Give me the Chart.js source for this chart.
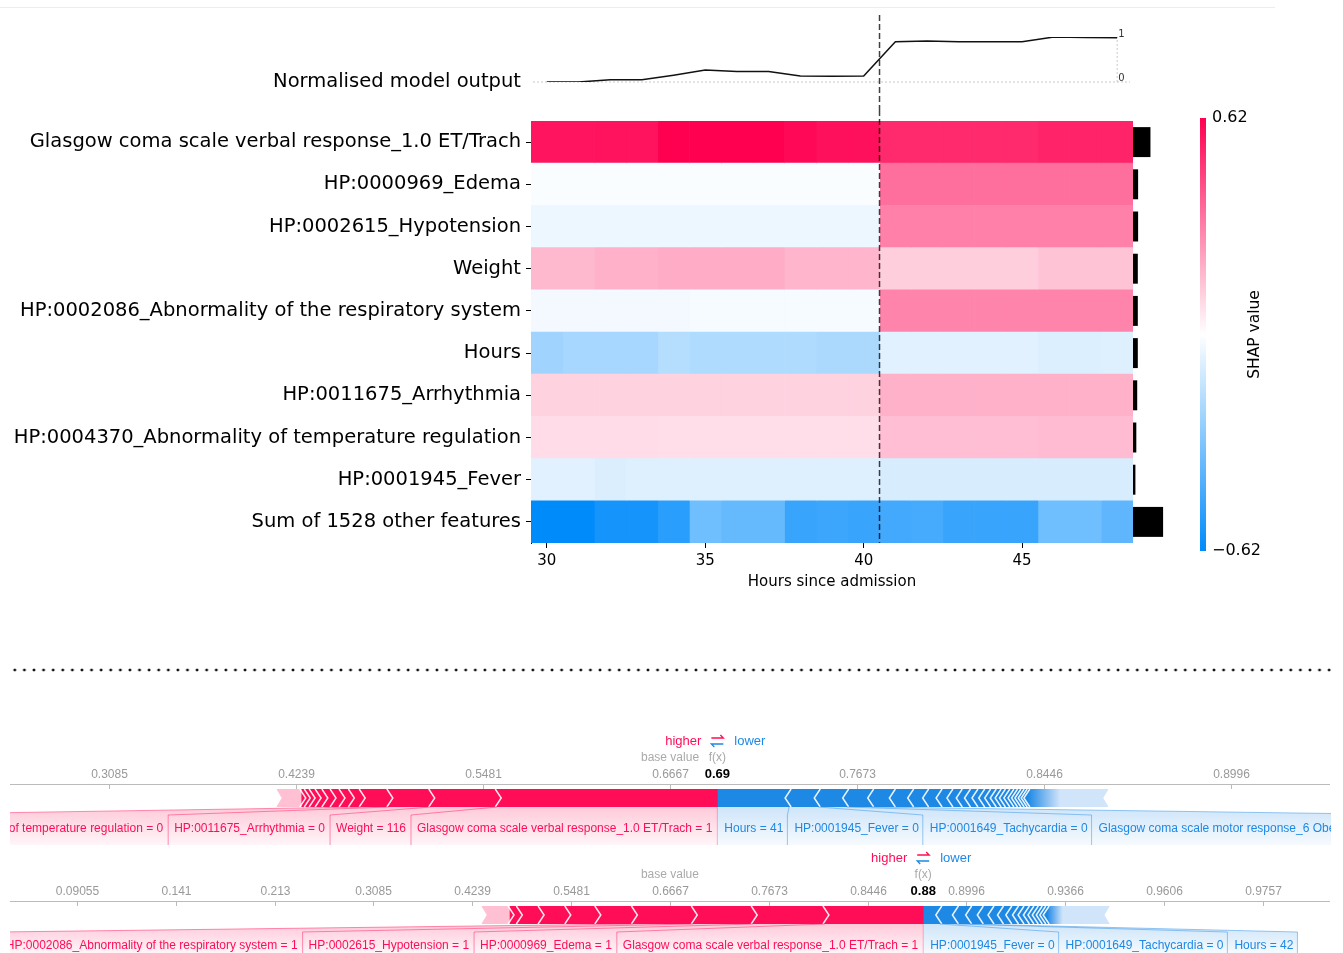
<!DOCTYPE html>
<html>
<head>
<meta charset="utf-8">
<title>SHAP heatmap and force plots</title>
<script src="https://cdn.jsdelivr.net/npm/chart.js@4.4.1/dist/chart.umd.min.js"></script>
<style>
  html, body { margin: 0; padding: 0; background: #fff; }
  body { position: relative; width: 1343px; height: 953px; overflow: hidden; }
  canvas { position: absolute; left: 0; }
  .rule { position: absolute; left: 0; top: 7px; width: 1275px; height: 1px; background: #ececec; }
  .dots { position: absolute; left: 10px; top: 667px; width: 1322px; height: 6px;
          background-image: radial-gradient(circle, #111 1.2px, transparent 1.7px);
          background-size: 9.6px 6px; }
</style>
</head>
<body>
<div class="rule"></div>
<canvas id="output" width="1343" height="110" style="top:0"></canvas>
<canvas id="heatmap" width="1343" height="500" style="top:110px"></canvas>
<div class="dots"></div>
<canvas id="force1" width="1343" height="115" style="top:730px"></canvas>
<canvas id="force2" width="1343" height="108" style="top:845px"></canvas>
<script>
// ---- heatmap data ----
const hours = [30, 31, 32, 33, 34, 35, 36, 37, 38, 39, 40, 41, 42, 43, 44, 45, 46, 47, 48];
const hourTicks = [30, 35, 40, 45];
const dividerHour = 40.5;
const features = [
  'Glasgow coma scale verbal response_1.0 ET/Trach',
  'HP:0000969_Edema',
  'HP:0002615_Hypotension',
  'Weight',
  'HP:0002086_Abnormality of the respiratory system',
  'Hours',
  'HP:0011675_Arrhythmia',
  'HP:0004370_Abnormality of temperature regulation',
  'HP:0001945_Fever',
  'Sum of 1528 other features'
];

const modelOutput = [0, 0, 0.05, 0.05, 0.15, 0.265, 0.235, 0.235, 0.135, 0.13, 0.135, 0.895, 0.91, 0.895, 0.895, 0.895, 1, 0.99, 0.985];

// SHAP value per hour for each feature row
const glasgowVerbal = [0.57, 0.57, 0.575, 0.575, 0.62, 0.62, 0.62, 0.62, 0.6, 0.58, 0.58, 0.52, 0.52, 0.52, 0.52, 0.52, 0.535, 0.535, 0.535];
const edema = [-0.012, -0.012, -0.012, -0.012, -0.012, -0.012, -0.012, -0.012, -0.012, -0.012, -0.012, 0.35, 0.35, 0.35, 0.35, 0.35, 0.35, 0.35, 0.35];
const hypotension = [-0.044, -0.044, -0.044, -0.044, -0.044, -0.044, -0.044, -0.044, -0.044, -0.044, -0.044, 0.31, 0.31, 0.31, 0.31, 0.31, 0.31, 0.31, 0.31];
const weight = [0.17, 0.17, 0.19, 0.19, 0.2, 0.2, 0.2, 0.2, 0.18, 0.18, 0.18, 0.12, 0.12, 0.12, 0.12, 0.12, 0.146, 0.146, 0.146];
const respiratory = [-0.03, -0.03, -0.03, -0.03, -0.03, -0.022, -0.022, -0.022, -0.022, -0.022, -0.022, 0.3, 0.3, 0.3, 0.3, 0.3, 0.3, 0.3, 0.3];
const hoursShap = [-0.23, -0.215, -0.215, -0.215, -0.18, -0.195, -0.195, -0.195, -0.195, -0.205, -0.205, -0.073, -0.073, -0.073, -0.073, -0.073, -0.085, -0.085, -0.08];
const arrhythmia = [0.11, 0.11, 0.11, 0.11, 0.11, 0.11, 0.11, 0.11, 0.11, 0.11, 0.11, 0.19, 0.19, 0.19, 0.19, 0.19, 0.19, 0.19, 0.19];
const tempRegulation = [0.085, 0.085, 0.085, 0.085, 0.08, 0.08, 0.08, 0.08, 0.08, 0.08, 0.08, 0.158, 0.158, 0.158, 0.158, 0.158, 0.165, 0.165, 0.165];
const fever = [-0.073, -0.073, -0.09, -0.08, -0.08, -0.08, -0.08, -0.08, -0.08, -0.08, -0.08, -0.097, -0.097, -0.097, -0.097, -0.097, -0.097, -0.097, -0.097];
const otherFeatures = [-0.62, -0.62, -0.57, -0.57, -0.52, -0.35, -0.375, -0.375, -0.485, -0.475, -0.485, -0.46, -0.45, -0.485, -0.485, -0.485, -0.35, -0.35, -0.39];

const featureBars = [0.58, 0.17, 0.17, 0.16, 0.16, 0.16, 0.14, 0.11, 0.08, 1.0];
const shapRange = 0.62;

// ---- force plot data (log-odds) ----
const baseValue = 0.6931;

const force1Fx = 0.8197;
const force1Red = [0.589, 0.178, 0.112, 0.074, 0.029, 0.025, 0.024, 0.022, 0.018, 0.016, 0.013, 0.012];
const force1RedRest = 0.067;
const force1Blue = [0.192, 0.078, 0.076, 0.067, 0.058, 0.049, 0.04, 0.036, 0.029, 0.025, 0.022, 0.02, 0.018, 0.016, 0.015, 0.013, 0.0115, 0.0118, 0.011, 0.0096, 0.009, 0.0088, 0.008, 0.0072];
const force1BlueRest = 0.215;
const force1RedLabels = ['Glasgow coma scale verbal response_1.0 ET/Trach = 1', 'Weight = 116', 'HP:0011675_Arrhythmia = 0', 'HP:0004370_Abnormality of temperature regulation = 0'];
const force1BlueLabels = ['Hours = 41', 'HP:0001945_Fever = 0', 'HP:0001649_Tachycardia = 0', 'Glasgow coma scale motor response_6 Obeys Commands = 1'];
const force1Ticks = [0.3085, 0.4239, 0.5481, 0.6667, 0.7673, 0.8446, 0.8996];
const force1Range = [-1.073, 2.459];

const force2Fx = 1.9743;
const force2Red = [0.497, 0.363, 0.303, 0.303, 0.185, 0.152, 0.135, 0.11, 0.042];
const force2RedRest = 0.143;
const force2Blue = [0.084, 0.084, 0.067, 0.059, 0.054, 0.048, 0.042, 0.034, 0.028, 0.027, 0.023, 0.022, 0.02, 0.018, 0.017];
const force2BlueRest = 0.315;
const force2RedLabels = ['Glasgow coma scale verbal response_1.0 ET/Trach = 1', 'HP:0000969_Edema = 1', 'HP:0002615_Hypotension = 1', 'HP:0002086_Abnormality of the respiratory system = 1'];
const force2BlueLabels = ['HP:0001945_Fever = 0', 'HP:0001649_Tachycardia = 0', 'Hours = 42'];
const force2Ticks = [0.09055, 0.141, 0.213, 0.3085, 0.4239, 0.5481, 0.6667, 0.7673, 0.8446, 0.8996, 0.9366, 0.9606, 0.9757];
const force2Range = [-2.645, 4.032];

// ---- helpers ----
const DEJAVU = '"DejaVu Sans", sans-serif';
const ARIAL = '"Liberation Sans", Arial, sans-serif';
const RED = 'rgb(255,13,87)', RED_RGB = '255,13,87', RED_PALE = 'rgb(255,192,211)';
const BLUE = 'rgb(30,136,229)', BLUE_RGB = '30,136,229', BLUE_PALE = 'rgb(208,228,250)';

Chart.defaults.font.family = DEJAVU;

const logit = p => Math.log(p / (1 - p));
const sigmoid = v => 1 / (1 + Math.exp(-v));

function shapColor(v) {
  const t = Math.max(-1, Math.min(1, v / shapRange));
  const end = t >= 0 ? [255, 0, 81] : [0, 139, 251];
  const a = Math.abs(t);
  const c = end.map(e => Math.round(255 + (e - 255) * a));
  return `rgb(${c[0]},${c[1]},${c[2]})`;
}

// ---- normalised model output line ----
const outputDecor = {
  id: 'outputDecor',
  beforeDatasetsDraw(chart) {
    const {ctx, scales: {x, y}} = chart;
    const last = hours[hours.length - 1];
    ctx.save();
    ctx.strokeStyle = '#bbb';
    ctx.lineWidth = 0.8;
    ctx.setLineDash([2, 2]);
    ctx.beginPath();
    ctx.moveTo(x.getPixelForValue(29.5) + 2, y.getPixelForValue(0));
    ctx.lineTo(x.getPixelForValue(48.5) - 3, y.getPixelForValue(0));
    ctx.moveTo(x.getPixelForValue(last), y.getPixelForValue(0));
    ctx.lineTo(x.getPixelForValue(last), y.getPixelForValue(1));
    ctx.stroke();
    ctx.setLineDash([]);
    ctx.fillStyle = '#333';
    ctx.font = '10px ' + DEJAVU;
    ctx.textAlign = 'left';
    ctx.textBaseline = 'middle';
    ctx.fillText('1', x.getPixelForValue(last) + 1, y.getPixelForValue(1) - 3);
    ctx.fillText('0', x.getPixelForValue(last) + 1, y.getPixelForValue(0) - 4);
    ctx.restore();
  },
  afterDraw(chart) {
    const {ctx, chartArea: a, scales: {x, y}} = chart;
    const dx = x.getPixelForValue(dividerHour);
    ctx.save();
    ctx.strokeStyle = 'rgba(0,0,0,0.75)';
    ctx.lineWidth = 1.5;
    ctx.setLineDash([6, 3]);
    ctx.beginPath();
    ctx.moveTo(dx, 15);
    ctx.lineTo(dx, chart.height);
    ctx.stroke();
    ctx.setLineDash([]);
    ctx.fillStyle = '#000';
    ctx.font = '19.5px ' + DEJAVU;
    ctx.textAlign = 'right';
    ctx.textBaseline = 'middle';
    ctx.fillText('Normalised model output', a.left - 10, y.getPixelForValue(0));
    ctx.restore();
  }
};

new Chart(document.getElementById('output'), {
  type: 'line',
  data: {
    datasets: [{
      data: hours.map((h, i) => ({x: h, y: modelOutput[i]})),
      borderColor: '#111',
      borderWidth: 1.5,
      pointRadius: 0,
      tension: 0
    }]
  },
  options: {
    responsive: false,
    animation: false,
    layout: {padding: {left: 531, right: 210, top: 37, bottom: 28}},
    scales: {
      x: {type: 'linear', min: 29.5, max: 48.5, display: false},
      y: {min: 0, max: 1, display: false}
    },
    plugins: {legend: {display: false}, tooltip: {enabled: false}}
  },
  plugins: [outputDecor]
});

// ---- heatmap ----
const rows = [glasgowVerbal, edema, hypotension, weight, respiratory, hoursShap, arrhythmia, tempRegulation, fever, otherFeatures];

const cellSets = hours.map((h, j) => ({
  data: rows.map(() => [h - 0.5, h + 0.5]),
  backgroundColor: rows.map(r => shapColor(r[j])),
  borderWidth: 0,
  barPercentage: 1,
  categoryPercentage: 1,
  grouped: false,
  xAxisID: 'x'
}));

const barSet = {
  data: featureBars.map(v => [0, v]),
  backgroundColor: '#000',
  borderWidth: 0,
  barPercentage: 0.71,
  categoryPercentage: 1,
  grouped: false,
  xAxisID: 'xBar',
  clip: false
};

const heatDecor = {
  id: 'heatDecor',
  afterDraw(chart) {
    const {ctx, chartArea: a, scales: {x}} = chart;
    const dx = x.getPixelForValue(dividerHour);
    ctx.save();
    ctx.strokeStyle = 'rgba(0,0,0,0.75)';
    ctx.lineWidth = 1.5;
    ctx.setLineDash([6, 3]);
    ctx.beginPath();
    ctx.moveTo(dx, 0);
    ctx.lineTo(dx, a.bottom);
    ctx.stroke();
    ctx.setLineDash([]);

    // colour bar
    const cbX = a.right + 67, cbTop = a.top - 3, cbBot = a.bottom + 8, cbW = 6;
    const g = ctx.createLinearGradient(0, cbTop, 0, cbBot);
    for (let k = 0; k <= 20; k++) g.addColorStop(k / 20, shapColor(shapRange - 2 * shapRange * k / 20));
    ctx.fillStyle = g;
    ctx.fillRect(cbX, cbTop, cbW, cbBot - cbTop);
    ctx.fillStyle = '#000';
    ctx.font = '16px ' + DEJAVU;
    ctx.textAlign = 'left';
    ctx.textBaseline = 'middle';
    ctx.fillText(shapRange.toFixed(2), cbX + 12, cbTop);
    ctx.fillText('\u2212' + shapRange.toFixed(2), cbX + 12, cbBot);
    ctx.translate(cbX + 55, (cbTop + cbBot) / 2);
    ctx.rotate(-Math.PI / 2);
    ctx.textAlign = 'center';
    ctx.font = '15.5px ' + DEJAVU;
    ctx.fillText('SHAP value', 0, 0);
    ctx.restore();
  }
};

new Chart(document.getElementById('heatmap'), {
  type: 'bar',
  data: {labels: features, datasets: [...cellSets, barSet]},
  options: {
    indexAxis: 'y',
    responsive: false,
    animation: false,
    layout: {padding: {left: 0, right: 210, top: 11, bottom: 17}},
    scales: {
      x: {
        type: 'linear', min: 29.5, max: 48.5,
        afterBuildTicks: s => { s.ticks = hourTicks.map(v => ({value: v})); },
        afterFit: s => { s.height = 50; s.paddingLeft = 0; s.paddingRight = 0; },
        grid: {drawOnChartArea: false, drawTicks: true, tickLength: 5, color: '#000'},
        border: {display: false},
        ticks: {font: {size: 15}, color: '#000', padding: 4, maxRotation: 0},
        title: {display: true, text: 'Hours since admission', font: {size: 15}, color: '#000', padding: {top: 0, bottom: 2}}
      },
      xBar: {type: 'linear', min: -20, max: 0, display: false},
      y: {
        type: 'category',
        afterFit: s => { s.width = 531; s.paddingTop = 0; s.paddingBottom = 0; },
        grid: {drawOnChartArea: false, drawTicks: true, tickLength: 5, color: '#000', offset: false},
        border: {display: true, color: '#000', width: 1},
        ticks: {font: {size: 19.5}, color: '#000', padding: 5, autoSkip: false}
      }
    },
    plugins: {legend: {display: false}, tooltip: {enabled: false}}
  },
  plugins: [heatDecor]
});

// ---- force plots ----
function buildSegments(f) {
  const red = [], blue = [];
  let x = f.fx;
  f.red.forEach(v => { red.push([x - v, x]); x -= v; });
  const redRest = [x - f.redRest, x];
  x = f.fx;
  f.blue.forEach(v => { blue.push([x, x + v]); x += v; });
  const blueRest = [x, x + f.blueRest];
  return {red, redRest, blue, blueRest};
}

function drawForce(chart, f, segs) {
  const {ctx, chartArea: area, scales: {x}} = chart;
  const px = v => x.getPixelForValue(v);
  const top = area.top, bot = area.bottom, mid = (top + bot) / 2;
  const axisY = top - 5;
  const fxPx = px(f.fx);
  ctx.save();
  ctx.beginPath();
  ctx.rect(10, 0, 1321, chart.height);
  ctx.clip();

  // chevrons between contributions
  ctx.strokeStyle = 'rgba(255,255,255,0.9)';
  ctx.lineWidth = 1.5;
  segs.red.forEach(s => {
    const b = px(s[0]);
    ctx.beginPath(); ctx.moveTo(b - 2, top); ctx.lineTo(b + 4, mid); ctx.lineTo(b - 2, bot); ctx.stroke();
  });
  segs.blue.forEach(s => {
    const b = px(s[1]);
    ctx.beginPath(); ctx.moveTo(b + 2, top); ctx.lineTo(b - 4, mid); ctx.lineTo(b + 2, bot); ctx.stroke();
  });
  ctx.fillStyle = '#fff';
  let e = px(segs.redRest[0]);
  ctx.beginPath(); ctx.moveTo(e - 1, top - 1); ctx.lineTo(e + 5, mid); ctx.lineTo(e - 1, bot + 1); ctx.closePath(); ctx.fill();
  e = px(segs.blueRest[1]);
  ctx.beginPath(); ctx.moveTo(e + 1, top - 1); ctx.lineTo(e - 5, mid); ctx.lineTo(e + 1, bot + 1); ctx.closePath(); ctx.fill();

  // axis
  ctx.strokeStyle = '#bbb';
  ctx.lineWidth = 1;
  ctx.beginPath();
  ctx.moveTo(area.left, axisY + 0.5);
  ctx.lineTo(area.right, axisY + 0.5);
  ctx.stroke();
  ctx.font = '12px ' + ARIAL;
  ctx.textAlign = 'center';
  ctx.textBaseline = 'middle';
  ctx.fillStyle = '#999';
  f.ticks.forEach(p => {
    const tx = Math.round(px(logit(p))) + 0.5;
    ctx.beginPath(); ctx.moveTo(tx, axisY); ctx.lineTo(tx, axisY + 5); ctx.stroke();
    ctx.fillText(String(p), tx, axisY - 9.5);
  });
  ctx.fillStyle = '#aaa';
  ctx.fillText('base value', px(baseValue), axisY - 26.5);
  ctx.fillText('f(x)', fxPx, axisY - 26.5);
  ctx.font = 'bold 13px ' + ARIAL;
  ctx.fillStyle = '#000';
  ctx.fillText(sigmoid(f.fx).toFixed(2), fxPx, axisY - 9.5);

  // higher / lower legend
  const ly = axisY - 43;
  ctx.font = '13px ' + ARIAL;
  ctx.fillStyle = RED; ctx.textAlign = 'right';
  ctx.fillText('higher', fxPx - 16, ly);
  ctx.fillStyle = BLUE; ctx.textAlign = 'left';
  ctx.fillText('lower', fxPx + 17, ly);
  ctx.lineWidth = 1.3;
  ctx.strokeStyle = RED;
  ctx.beginPath(); ctx.moveTo(fxPx - 6, ly - 3); ctx.lineTo(fxPx + 6, ly - 3); ctx.lineTo(fxPx + 3, ly - 6); ctx.stroke();
  ctx.strokeStyle = BLUE;
  ctx.beginPath(); ctx.moveTo(fxPx + 6, ly + 3); ctx.lineTo(fxPx - 6, ly + 3); ctx.lineTo(fxPx - 3, ly + 6); ctx.stroke();

  // feature labels with connectors
  const boxTop = bot + 8, boxBot = chart.height + 2, textY = bot + 22;
  ctx.font = '12px ' + ARIAL;
  const items = [];
  let edge = fxPx;
  f.redLabels.forEach((t, i) => {
    const w = ctx.measureText(t).width;
    items.push({t, rgb: RED_RGB, col: RED, s0: px(segs.red[i][0]), s1: px(segs.red[i][1]), l: edge - w - 11, r: edge, red: true});
    edge -= w + 11;
  });
  edge = fxPx;
  f.blueLabels.forEach((t, i) => {
    const w = ctx.measureText(t).width;
    items.push({t, rgb: BLUE_RGB, col: BLUE, s0: px(segs.blue[i][0]), s1: px(segs.blue[i][1]), l: edge, r: edge + w + 11, red: false});
    edge += w + 11;
  });
  items.forEach(it => {
    const g = ctx.createLinearGradient(0, bot, 0, boxBot);
    g.addColorStop(0, `rgba(${it.rgb},0.22)`);
    g.addColorStop(1, `rgba(${it.rgb},0.03)`);
    ctx.fillStyle = g;
    ctx.beginPath();
    ctx.moveTo(it.s0, bot); ctx.lineTo(it.s1, bot);
    ctx.lineTo(it.r, boxTop); ctx.lineTo(it.r, boxBot);
    ctx.lineTo(it.l, boxBot); ctx.lineTo(it.l, boxTop);
    ctx.closePath();
    ctx.fill();
  });
  ctx.lineWidth = 1;
  items.forEach(it => {
    ctx.strokeStyle = `rgba(${it.rgb},0.45)`;
    ctx.beginPath();
    if (it.red) { ctx.moveTo(it.s0, bot); ctx.lineTo(it.l, boxTop); ctx.lineTo(it.l, boxBot); }
    else { ctx.moveTo(it.s1, bot); ctx.lineTo(it.r, boxTop); ctx.lineTo(it.r, boxBot); }
    ctx.stroke();
  });
  ctx.strokeStyle = `rgba(${RED_RGB},0.3)`;
  ctx.beginPath(); ctx.moveTo(fxPx, bot); ctx.lineTo(fxPx, boxBot); ctx.stroke();
  ctx.textBaseline = 'middle';
  items.forEach(it => {
    ctx.fillStyle = it.col;
    if (it.red) { ctx.textAlign = 'right'; ctx.fillText(it.t, it.r - 5, textY); }
    else { ctx.textAlign = 'left'; ctx.fillText(it.t, it.l + 7, textY); }
  });
  ctx.restore();
}

function forceChart(id, f, pad) {
  const segs = buildSegments(f);
  const bar = (seg, color) => ({
    data: [seg], backgroundColor: color, borderWidth: 0,
    barPercentage: 1, categoryPercentage: 1, grouped: false
  });
  const tailFill = c => {
    const chart = c.chart;
    if (!chart.chartArea) return BLUE_PALE;
    const x0 = chart.scales.x.getPixelForValue(segs.blueRest[0]);
    const x1 = chart.scales.x.getPixelForValue(segs.blueRest[1]);
    const g = chart.ctx.createLinearGradient(x0, 0, x1, 0);
    g.addColorStop(0, BLUE);
    g.addColorStop(f.blueFade, BLUE_PALE);
    g.addColorStop(1, BLUE_PALE);
    return g;
  };
  const datasets = [
    ...segs.red.map(s => bar(s, RED)),
    bar(segs.redRest, RED_PALE),
    ...segs.blue.map(s => bar(s, BLUE)),
    bar(segs.blueRest, tailFill)
  ];
  return new Chart(document.getElementById(id), {
    type: 'bar',
    data: {labels: [''], datasets},
    options: {
      indexAxis: 'y',
      responsive: false,
      animation: false,
      layout: {padding: pad},
      scales: {
        x: {type: 'linear', min: f.range[0], max: f.range[1], display: false},
        y: {display: false}
      },
      plugins: {legend: {display: false}, tooltip: {enabled: false}}
    },
    plugins: [{id: 'forceDecor', afterDatasetsDraw: chart => drawForce(chart, f, segs)}]
  });
}

forceChart('force1', {
  fx: force1Fx, red: force1Red, redRest: force1RedRest, blue: force1Blue, blueRest: force1BlueRest,
  redLabels: force1RedLabels, blueLabels: force1BlueLabels, ticks: force1Ticks, range: force1Range, blueFade: 0.4
}, {left: 10, right: 13, top: 59, bottom: 38});

forceChart('force2', {
  fx: force2Fx, red: force2Red, redRest: force2RedRest, blue: force2Blue, blueRest: force2BlueRest,
  redLabels: force2RedLabels, blueLabels: force2BlueLabels, ticks: force2Ticks, range: force2Range, blueFade: 0.25
}, {left: 10, right: 13, top: 61, bottom: 29});
</script>
</body>
</html>
